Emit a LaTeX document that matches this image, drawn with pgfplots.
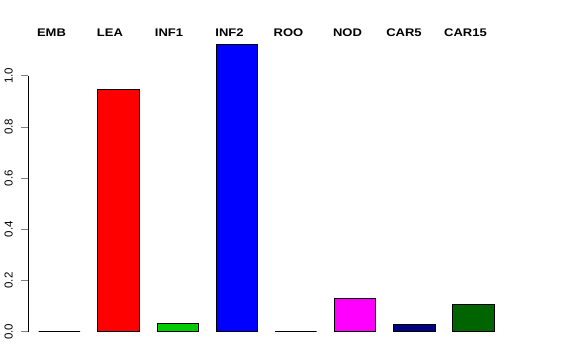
\documentclass[border=0pt]{standalone}
\usepackage{pgfplots}
\pgfplotsset{compat=1.18}
\usepackage{fontspec}
\setmainfont{Liberation Sans}
\definecolor{rred}{RGB}{255,0,0}
\definecolor{rgreen}{RGB}{0,205,0}
\definecolor{rblue}{RGB}{0,0,255}
\definecolor{rmag}{RGB}{255,0,255}
\definecolor{rnavy}{RGB}{0,0,128}
\definecolor{rdkgreen}{RGB}{0,100,0}
\begin{document}
\begin{tikzpicture}[x=1pt,y=1pt]
\useasboundingbox (-28.3,-28.3) rectangle (547.7,331.7);
\begin{axis}[
  at={(0,0)}, anchor=south west,
  scale only axis, width=474.5pt, height=256pt,
  xmin=-0.524, xmax=7.5, ymin=0, ymax=1,
  hide x axis, axis y line*=left,
  ytick={0,0.2,0.4,0.6,0.8,1.0},
  yticklabels={0.0,0.2,0.4,0.6,0.8,1.0},
  tick align=outside, major tick length=7pt,
  y axis line style={-, line width=0.6pt},
  ytick style={line width=0.6pt},
  yticklabel style={xshift=-5pt, rotate=90, anchor=south, font=\fontsize{11.5}{14}\selectfont},
  clip=false,
  every axis plot/.append style={ybar, bar width=41.5pt, bar shift=0pt, draw=black, line width=0.6pt},
]
\addplot[fill=white] coordinates {(0,0)};
\addplot[fill=rred] coordinates {(1,0.948)};
\addplot[fill=rgreen] coordinates {(2,0.034)};
\addplot[fill=rblue] coordinates {(3,1.124)};
\addplot[fill=white] coordinates {(4,0)};
\addplot[fill=rmag] coordinates {(5,0.132)};
\addplot[fill=rnavy] coordinates {(6,0.028)};
\addplot[fill=rdkgreen] coordinates {(7,0.108)};
\begin{scope}[every node/.style={anchor=base, inner sep=0pt, yscale=0.85, font=\bfseries\fontsize{13}{14}\selectfont}]
\node at (axis cs:-0.132,1.155) {EMB};
\node at (axis cs:0.857,1.155) {LEA};
\node at (axis cs:1.855,1.155) {INF1};
\node at (axis cs:2.878,1.155) {INF2};
\node at (axis cs:3.876,1.155) {ROO};
\node at (axis cs:4.873,1.155) {NOD};
\node at (axis cs:5.829,1.155) {CAR5};
\node at (axis cs:6.868,1.155) {CAR15};
\end{scope}
\end{axis}
\end{tikzpicture}
\end{document}
